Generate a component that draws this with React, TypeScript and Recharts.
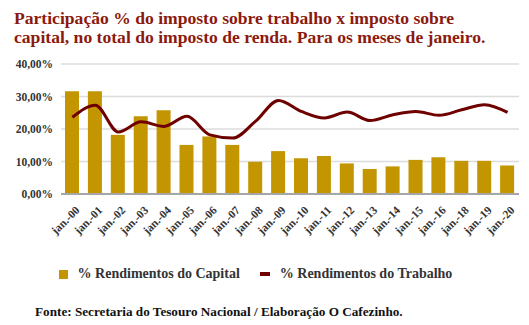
import React from "react";
import { ComposedChart, Bar, Line, XAxis, YAxis, CartesianGrid, Legend } from "recharts";

const categories = ["jan.-00","jan.-01","jan.-02","jan.-03","jan.-04","jan.-05","jan.-06","jan.-07","jan.-08","jan.-09","jan.-10","jan.-11","jan.-12","jan.-13","jan.-14","jan.-15","jan.-16","jan.-18","jan.-19","jan.-20"];
const capital = [31.6,31.6,18.2,23.9,25.8,15.1,17.7,15.1,9.9,13.2,11.0,11.7,9.4,7.7,8.5,10.5,11.3,10.2,10.2,8.8];
const trabalho = [23.6,27.3,19.1,22.2,20.8,23.9,18.2,17.2,22.4,28.8,25.4,23.4,25.2,22.6,24.4,25.4,24.2,25.9,27.5,25.1];
const yTicks = [0,10,20,30,40];
const titleLines = [
  "Participação % do imposto sobre trabalho x imposto sobre",
  "capital, no total do imposto de renda. Para os meses de janeiro.",
];

const data = categories.map((c, i) => ({ cat: c, capital: capital[i], trabalho: trabalho[i] }));

const FONT = '"Liberation Serif", "Times New Roman", serif';
const BAR = "#c39500";
const LINE = "#6e0000";

const fmt = (v: number) => v.toFixed(2).replace(".", ",") + "%";

const XTick = (props: any) => {
  const { x, y, payload } = props;
  return (
    <g transform={`translate(${x + 5},${y + 6})`}>
      <text transform="rotate(-45)" textAnchor="end" dominantBaseline="central" fontFamily={FONT} fontWeight="bold" fontSize={11.5} fill="#333">
        {payload.value}
      </text>
    </g>
  );
};

const LegendContent = (props: any) => {
  const { payload } = props;
  return (
    <div style={{ display: "flex", justifyContent: "center", fontFamily: FONT, fontWeight: "bold", fontSize: 14, color: "#333", height: 20, alignItems: "center", paddingRight: 8 }}>
      {payload.map((p: any, i: number) => (
        <div key={i} style={{ display: "flex", alignItems: "center", marginRight: i === 0 ? 20 : 0 }}>
          {p.type === "square" ? (
            <span style={{ display: "inline-block", width: 9, height: 9, background: p.color, marginRight: 10 }} />
          ) : (
            <span style={{ display: "inline-block", width: 10, height: 4, background: p.color, marginRight: 10 }} />
          )}
          <span>{p.value}</span>
        </div>
      ))}
    </div>
  );
};

export default function App() {
  return (
    <div style={{ position: "absolute", left: 0, top: 0, width: 529, height: 325, background: "#fff", fontFamily: FONT }}>
      {titleLines.map((t, i) => (
        <div key={i} style={{ position: "absolute", left: 14, top: 10 + i * 19, fontSize: 17.6, lineHeight: "17px", height: 17, fontWeight: "bold", color: "#8b1a0e", whiteSpace: "nowrap" }}>
          {t}
        </div>
      ))}
      <div style={{ position: "absolute", top: 0, left: 0 }}>
        <ComposedChart width={529} height={290} data={data} margin={{ top: 64, right: 10, bottom: 6, left: 0 }} barSize={14}>
          <CartesianGrid vertical={false} stroke="#dcdcdc" strokeWidth={1.5} />
          <XAxis dataKey="cat" tick={<XTick />} tickLine={false} axisLine={{ stroke: "#a6a6a6", strokeWidth: 2 }} height={70} interval={0} />
          <YAxis domain={[0, 40]} ticks={yTicks} tickFormatter={fmt} width={61} axisLine={false} tickLine={false}
            tick={{ fontFamily: FONT, fontWeight: "bold", fontSize: 11.5, fill: "#333" }} />
          <Legend content={<LegendContent />} verticalAlign="bottom" />
          <Bar dataKey="capital" name="% Rendimentos do Capital" fill={BAR} legendType="square" isAnimationActive={false} />
          <Line dataKey="trabalho" name="% Rendimentos do Trabalho" type="monotone" stroke={LINE} strokeWidth={3} dot={false} legendType="line" isAnimationActive={false} />
        </ComposedChart>
      </div>
      <div style={{ position: "absolute", left: 35, top: 304, fontSize: 13.2, fontWeight: "bold", color: "#111", whiteSpace: "nowrap" }}>
        Fonte: Secretaria do Tesouro Nacional / Elaboração O Cafezinho.
      </div>
    </div>
  );
}
